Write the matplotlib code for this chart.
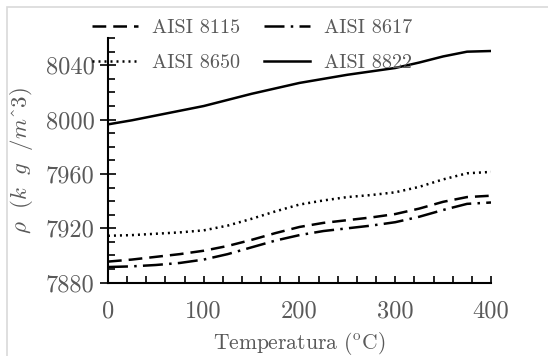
import matplotlib.pyplot as plt
import matplotlib.patches as patches

plt.rcParams['font.family'] = ['cmr10', 'DejaVu Serif']
plt.rcParams['mathtext.fontset'] = 'cm'
plt.rcParams['axes.unicode_minus'] = False

temp = [0, 25, 50, 75, 100, 125, 150, 175, 200, 225, 250, 275, 300, 325, 350, 375, 400]
aisi_8115 = [7895.5, 7897, 7899, 7901, 7903.5, 7907, 7911.5, 7916.5, 7921, 7924, 7926, 7928, 7930.5, 7934.5, 7939.5, 7943, 7944]
aisi_8617 = [7891.5, 7892, 7893, 7894.5, 7897, 7901, 7906, 7911, 7915, 7918, 7920, 7922, 7924.5, 7928.5, 7933.5, 7938, 7939]
aisi_8650 = [7914.5, 7915, 7916, 7917, 7918.5, 7922, 7927, 7932.5, 7937.5, 7940.5, 7943, 7944.5, 7946.5, 7950.5, 7956, 7960.5, 7961.5]
aisi_8822 = [7996.5, 7999.5, 8003, 8006.5, 8010, 8014.5, 8019, 8023, 8027, 8030, 8033, 8035.5, 8038, 8042, 8046.5, 8050, 8050.5]

fig = plt.figure(figsize=(5.48, 3.56), dpi=100)
ax = fig.add_axes([0.197, 0.206, 0.699, 0.687])

fig.patches.append(patches.Rectangle((0.013, -0.05), 1.1, 1.03, transform=fig.transFigure,
                                     fill=False, edgecolor='#d9d9d9', linewidth=1.2))

l1, = ax.plot(temp, aisi_8115, color='k', lw=1.8, linestyle=(0, (5.5, 2.8)), label='AISI 8115')
l2, = ax.plot(temp, aisi_8617, color='k', lw=1.8, linestyle=(0, (8, 2.5, 1, 2.5)), label='AISI 8617')
l3, = ax.plot(temp, aisi_8650, color='k', lw=1.8, linestyle=(0, (0.8, 1.6)), label='AISI 8650')
l4, = ax.plot(temp, aisi_8822, color='k', lw=1.8, linestyle='-', label='AISI 8822')

ax.set_xlim(0, 400)
ax.set_ylim(7880, 8060)
ax.set_xticks([0, 100, 200, 300, 400])
ax.set_xticks(range(0, 401, 20), minor=True)
ax.set_yticks([7880, 7920, 7960, 8000, 8040])
ax.set_yticks(range(7880, 8061, 10), minor=True)

for s in ['top', 'right']:
    ax.spines[s].set_visible(False)
for s in ['left', 'bottom']:
    ax.spines[s].set_linewidth(1.5)

txtcol = '#595959'
ax.tick_params(axis='x', which='both', direction='in', length=5, width=1.2, colors='k',
               labelcolor=txtcol, labelsize=17.5, pad=13)
ax.tick_params(axis='y', which='major', direction='inout', length=11, width=1.2, colors='k',
               labelcolor=txtcol, labelsize=17.5, pad=4)
ax.tick_params(axis='y', which='minor', direction='in', length=5, width=1.2, colors='k')

ax.set_xlabel(r'Temperatura ($^{\mathrm{o}}$C)', fontsize=15.5, color=txtcol, labelpad=5)
ax.set_ylabel(r'$\rho\ \ (k\ \ g\ \ /m$^$3)$', fontsize=16.5, color=txtcol, labelpad=8)

ax.legend([l1, l3, l2, l4], ['AISI 8115', 'AISI 8650', 'AISI 8617', 'AISI 8822'],
          loc='upper left', bbox_to_anchor=(92 / 548, 1 - 19 / 356),
          bbox_transform=fig.transFigure, ncol=2, frameon=False, borderpad=0, borderaxespad=0,
          fontsize=14.5, handlelength=2.3, columnspacing=1.15, labelspacing=0.85,
          handletextpad=0.7, labelcolor=txtcol)

fig.savefig('out.png', dpi=100)
